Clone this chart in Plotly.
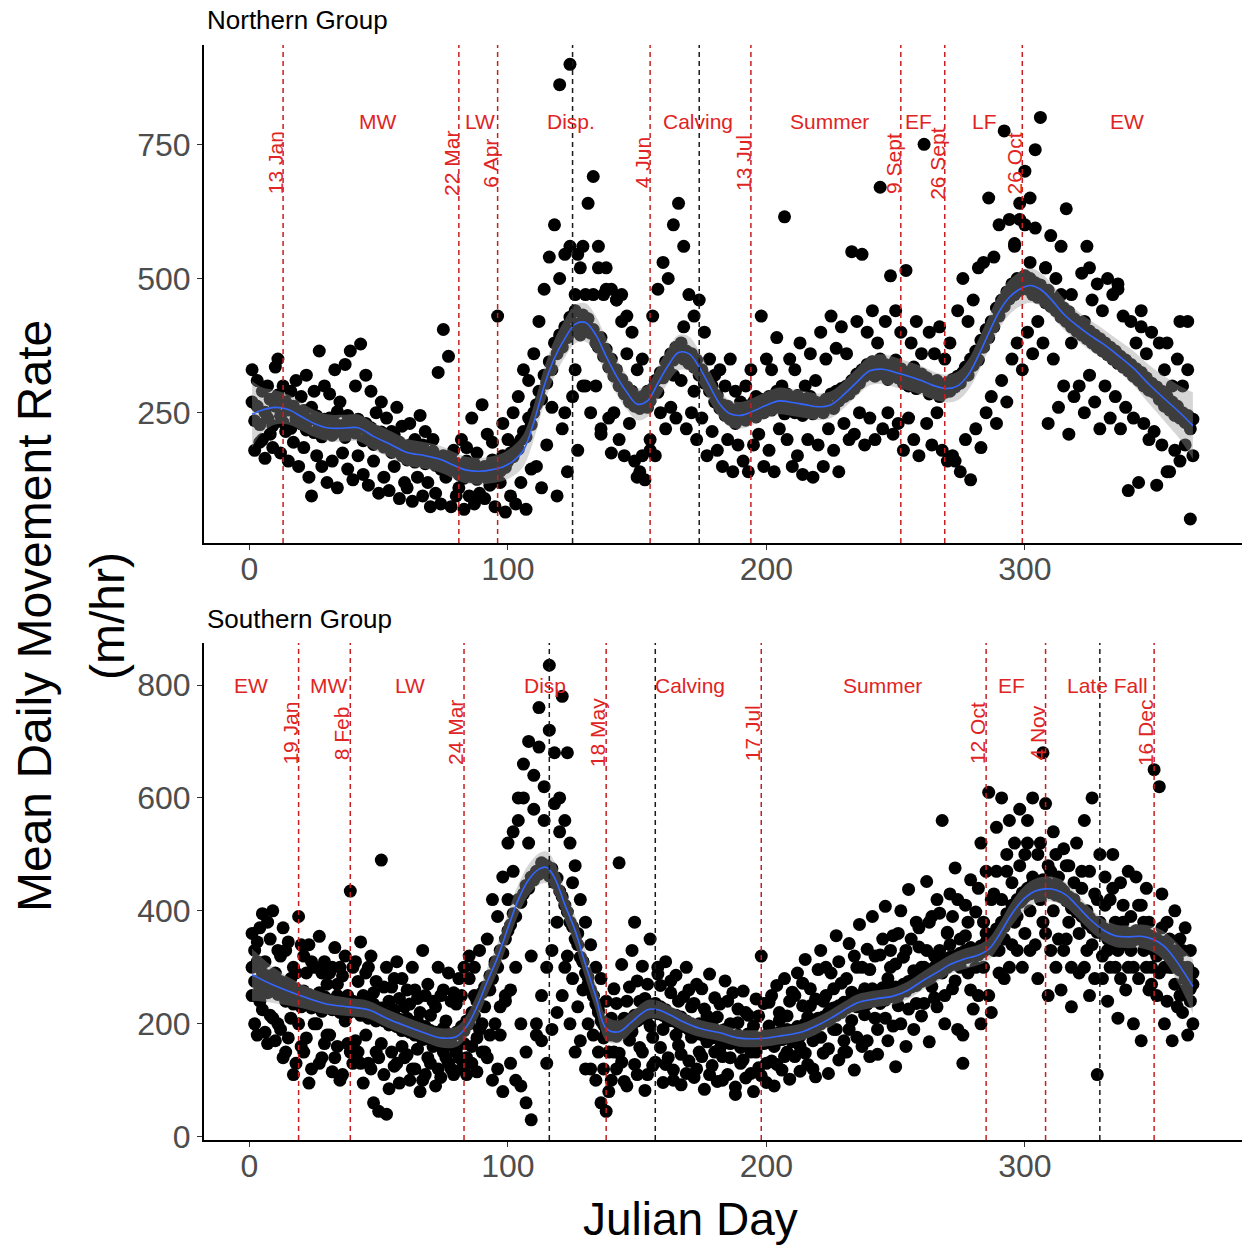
import plotly.graph_objects as go

# ---------------------------------------------------------------- data
days = list(range(1, 366))

# Northern group: daily mean movement rates (two animal-years)
north_rate_a = [
    270, 235, 262, 228, 290, 251, 240, 275, 226, 262,
    283, 244, 232, 270, 255, 221, 262, 238, 250, 229,
    254, 218, 236, 260, 213, 244, 228, 205, 238, 217,
    240, 208, 230, 252, 215, 226, 204, 245, 219, 233,
    212, 238, 224, 198, 230, 210, 222, 191, 215, 203,
    214, 186, 205, 192, 176, 209, 183, 195, 170, 188,
    162, 190, 175, 158, 182, 166, 190, 155, 174, 160,
    178, 152, 165, 145, 170, 158, 141, 163, 148, 155,
    135, 152, 128, 160, 140, 131, 155, 126, 146, 138,
    150, 128, 145, 162, 133, 158, 141, 170, 148, 160,
    175, 168, 190, 182, 200, 215, 205, 240, 228, 250,
    265, 290, 275, 320, 305, 345, 330, 380, 360, 395,
    372, 410, 390, 428, 402, 440, 415, 395, 432, 410,
    425, 398, 405, 380, 372, 390, 355, 368, 335, 350,
    318, 330, 300, 312, 285, 298, 270, 290, 262, 275,
    258, 280, 265, 290, 272, 295, 310, 288, 325, 315,
    345, 330, 360, 348, 372, 355, 380, 350, 365, 342,
    360, 335, 348, 320, 330, 305, 315, 290, 300, 270,
    282, 258, 265, 245, 262, 238, 255, 230, 250, 240,
    255, 236, 262, 248, 270, 242, 258, 275, 250, 268,
    280, 255, 272, 290, 260, 278, 248, 285, 262, 275,
    250, 282, 265, 245, 275, 258, 280, 248, 270, 255,
    268, 250, 275, 262, 285, 258, 290, 272, 295, 280,
    300, 285, 310, 295, 322, 305, 330, 318, 340, 325,
    345, 318, 335, 350, 322, 340, 312, 338, 326, 348,
    315, 332, 305, 325, 300, 318, 335, 295, 312, 322,
    298, 315, 285, 305, 292, 310, 280, 300, 288, 306,
    290, 312, 298, 318, 305, 325, 335, 320, 350, 338,
    365, 348, 385, 372, 405, 390, 420, 410, 445, 430,
    460, 448, 475, 462, 490, 470, 500, 478, 495, 505,
    480, 500, 470, 492, 465, 488, 475, 455, 478, 448,
    462, 440, 455, 428, 445, 420, 438, 410, 425, 402,
    415, 395, 420, 388, 402, 380, 395, 372, 388, 365,
    380, 358, 372, 350, 365, 342, 355, 335, 348, 328,
    340, 318, 332, 310, 325, 300, 315, 292, 305, 288,
    298, 275, 290, 262, 280, 255, 270, 245, 262, 240,
    250, 232, 245, 220, 238,
]
north_rate_b = [
    330, 180, 310, 195, 200, 165, 300, 210, 185, 335,
    350, 175, 300, 215, 160, 290, 195, 310, 150, 280,
    185, 320, 130, 95, 290, 170, 365, 150, 300, 120,
    285, 160, 330, 110, 270, 175, 340, 145, 365, 125,
    300, 170, 378, 135, 320, 115, 290, 160, 250, 100,
    270, 130, 240, 105, 215, 150, 260, 90, 225, 120,
    110, 230, 85, 200, 130, 245, 95, 215, 120, 75,
    200, 100, 325, 80, 405, 130, 355, 75, 180, 95,
    110, 200, 70, 185, 95, 240, 80, 175, 100, 265,
    90, 210, 115, 195, 75, 430, 120, 230, 65, 200,
    95, 250, 80, 280, 120, 330, 70, 310, 145, 360,
    150, 420, 110, 480, 190, 540, 260, 600, 95, 500,
    220, 545, 140, 560, 280, 470, 180, 520, 300, 470,
    640, 250, 690, 300, 560, 210, 470, 520, 240, 480,
    250, 460, 200, 420, 170, 360, 230, 400, 160, 330,
    140, 350, 125, 260, 200, 430, 170, 480, 250, 530,
    220, 500, 260, 600, 240, 640, 310, 560, 220, 470,
    250, 430, 200, 460, 240, 400, 170, 350, 215, 320,
    180, 330, 150, 300, 200, 350, 140, 290, 190, 270,
    160, 300, 140, 330, 190, 280, 210, 430, 150, 350,
    180, 330, 140, 390, 220, 300, 615, 200, 350, 150,
    330, 170, 380, 135, 300, 200, 360, 130, 310, 190,
    400, 150, 350, 220, 430, 180, 370, 140, 410, 230,
    360, 200, 550, 210, 420, 250, 545, 190, 400, 240,
    440, 200, 380, 670, 220, 420, 250, 505, 210, 440,
    230, 400, 180, 515, 240, 380, 200, 420, 170, 360,
    750, 230, 400, 190, 360, 250, 410, 180, 350, 160,
    380, 170, 160, 440, 140, 500, 200, 420, 125, 460,
    220, 520, 185, 530, 250, 650, 280, 540, 230, 600,
    310, 775, 270, 610, 350, 560, 380, 640, 330, 700,
    400, 650, 360, 740, 420, 800, 380, 520, 230, 580,
    350, 500, 260, 560, 300, 630, 210, 470, 280, 420,
    300, 510, 250, 560, 320, 460, 270, 490, 220, 440,
    300, 500, 240, 470, 280, 490, 220, 430, 260, 105,
    420, 240, 380, 120, 410, 230, 360, 200, 400, 215,
    115, 380, 190, 330, 140, 140, 300, 180, 350, 160,
    300, 190, 420, 52, 170,
]
north_extra_day = [120, 124, 127, 129, 133, 135, 138, 142, 144, 146, 126, 122,
                   130, 136, 140, 150, 152, 155, 164, 168, 172, 300, 296, 304,
                   298, 308, 302, 314, 318, 325, 336, 345, 355, 360, 363]
north_extra_rate = [861, 899, 545, 560, 470, 520, 480, 460, 470, 430, 330, 250,
                    300, 220, 175, 130, 170, 180, 320, 410, 290, 600, 565, 594,
                    610, 520, 530, 470, 380, 520, 480, 440, 380, 420, 330]

# Southern group: daily mean movement rates (three animal-years)
south_rate_a = [
    300, 275, 310, 262, 290, 270, 255, 285, 260, 278,
    252, 275, 262, 240, 268, 255, 235, 262, 248, 230,
    258, 240, 252, 228, 245, 236, 255, 222, 248, 230,
    242, 225, 238, 250, 220, 235, 245, 218, 232, 240,
    222, 238, 215, 230, 242, 210, 226, 235, 205, 220,
    228, 205, 218, 198, 212, 225, 195, 208, 188, 200,
    210, 185, 198, 180, 205, 190, 172, 195, 178, 188,
    170, 185, 165, 180, 192, 168, 182, 175, 160, 185,
    182, 195, 188, 205, 200, 220, 215, 240, 235, 255,
    265, 260, 285, 280, 305, 300, 330, 325, 350, 365,
    375, 395, 390, 420, 415, 430, 445, 440, 460, 455,
    470, 465, 485, 470, 480, 462, 475, 450, 458, 435,
    425, 410, 398, 380, 372, 350, 340, 318, 310, 290,
    282, 260, 250, 235, 225, 205, 198, 185, 192, 180,
    190, 178, 195, 185, 200, 190, 205, 198, 215, 205,
    218, 210, 228, 215, 232, 220, 235, 218, 230, 215,
    225, 210, 218, 205, 215, 200, 212, 195, 205, 190,
    200, 188, 195, 182, 198, 178, 192, 185, 175, 190,
    180, 172, 188, 170, 182, 165, 178, 168, 180, 162,
    175, 165, 182, 168, 178, 160, 175, 170, 165, 180,
    170, 182, 165, 178, 185, 172, 180, 190, 175, 188,
    182, 195, 178, 190, 200, 185, 198, 205, 192, 210,
    200, 212, 205, 220, 210, 228, 215, 232, 220, 238,
    228, 240, 232, 245, 230, 250, 238, 245, 235, 252,
    240, 255, 245, 250, 258, 242, 262, 248, 255, 265,
    250, 262, 270, 258, 275, 265, 280, 268, 285, 275,
    290, 278, 295, 285, 300, 290, 308, 295, 312, 300,
    318, 305, 320, 310, 325, 315, 330, 318, 335, 322,
    330, 322, 338, 328, 345, 335, 352, 345, 368, 360,
    380, 372, 395, 388, 410, 400, 420, 415, 432, 425,
    440, 430, 448, 435, 450, 438, 455, 440, 448, 432,
    445, 428, 440, 425, 435, 418, 425, 405, 415, 398,
    405, 390, 395, 378, 388, 370, 380, 362, 372, 360,
    368, 350, 362, 345, 365, 350, 358, 348, 362, 352,
    360, 348, 365, 352, 358, 345, 360, 342, 355, 340,
    350, 335, 345, 325, 338, 318, 330, 305, 315, 295,
    300, 280, 288, 262, 270,
]
south_rate_b = [
    360, 200, 345, 240, 395, 185, 380, 215, 400, 170,
    330, 190, 370, 150, 345, 210, 300, 130, 390, 160,
    320, 175, 340, 120, 300, 200, 355, 140, 310, 180,
    290, 115, 335, 160, 300, 110, 320, 165, 435, 130,
    310, 150, 345, 95, 290, 130, 320, 60, 275, 140,
    490, 110, 300, 85, 265, 125, 310, 95, 280, 140,
    260, 100, 300, 120, 245, 80, 330, 110, 270, 130,
    240, 90, 300, 105, 260, 140, 290, 120, 255, 150,
    280, 120, 300, 140, 320, 160, 250, 175, 330, 200,
    150, 350, 180, 420, 200, 390, 230, 460, 250, 520,
    260, 540, 300, 600, 200, 660, 150, 700, 320, 640,
    180, 690, 250, 620, 300, 720, 330, 680, 380, 600,
    250, 560, 320, 520, 280, 480, 230, 420, 260, 380,
    200, 340, 180, 300, 150, 280, 120, 240, 80, 210,
    262, 120, 148, 305, 98, 240, 171, 330, 128, 276,
    158, 302, 245, 110, 350, 176, 132, 288, 268, 96,
    310, 140, 255, 118, 286, 162, 92, 248, 300, 134,
    230, 105, 270, 150, 262, 84, 214, 288, 126, 246,
    98, 235, 142, 276, 110, 200, 255, 88, 226, 130,
    258, 104, 215, 150, 80, 244, 122, 320, 172, 96,
    238, 134, 90, 268, 206, 118, 280, 150, 102, 256,
    142, 290, 116, 232, 314, 128, 262, 170, 106, 296,
    330, 148, 250, 112, 290, 190, 356, 136, 272, 170,
    150, 342, 206, 118, 300, 376, 160, 262, 332, 142,
    390, 210, 146, 322, 264, 408, 170, 300, 356, 124,
    232, 400, 318, 160, 438, 272, 190, 380, 336, 214,
    300, 452, 168, 390, 246, 420, 330, 560, 200, 362,
    430, 262, 476, 190, 350, 130, 410, 290, 455, 226,
    398, 250, 520, 300, 470, 610, 220, 430, 548, 330,
    600, 280, 470, 560, 340, 520, 390, 580, 300, 500,
    560, 330, 600, 440, 280, 520, 380, 590, 250, 470,
    540, 300, 460, 260, 510, 350, 480, 230, 420, 520,
    290, 470, 560, 330, 250, 600, 430, 110, 500, 280,
    460, 240, 420, 500, 300, 210, 450, 380, 260, 470,
    330, 200, 460, 410, 170, 380, 440, 260, 300, 650,
    250, 620, 430, 200, 380, 300, 170, 400, 230, 350,
    220, 370, 180, 330, 200,
]
south_rate_c = [
    250, 330, 180, 370, 225, 310, 165, 350, 210, 290,
    200, 320, 140, 330, 175, 280, 110, 290, 200, 340,
    150, 290, 95, 310, 200, 250, 130, 290, 165, 270,
    180, 300, 140, 270, 100, 285, 205, 250, 150, 300,
    170, 275, 130, 250, 180, 300, 120, 255, 150, 45,
    165, 265, 40, 240, 150, 280, 130, 245, 160, 230,
    145, 235, 120, 260, 155, 220, 100, 250, 140, 215,
    160, 230, 120, 250, 150, 205, 130, 240, 110, 235,
    140, 250, 165, 110, 280, 130, 300, 115, 190, 150,
    230, 140, 260, 100, 310, 120, 180, 80, 240, 420,
    130, 470, 100, 560, 90, 600, 60, 520, 30, 580,
    200, 760, 170, 560, 130, 835, 190, 590, 220, 540,
    780, 300, 680, 200, 450, 150, 360, 170, 310, 120,
    270, 120, 250, 100, 220, 60, 175, 45, 150, 100,
    150, 236, 485, 132, 210, 90, 265, 186, 380, 110,
    240, 150, 82, 270, 196, 126, 236, 300, 158, 190,
    128, 205, 276, 100, 180, 240, 146, 196, 112, 260,
    176, 236, 120, 200, 142, 226, 168, 110, 198, 150,
    212, 156, 100, 190, 240, 140, 168, 75, 202, 158,
    136, 220, 182, 112, 196, 150, 214, 108, 236, 130,
    196, 250, 160, 128, 220, 184, 142, 214, 240, 168,
    250, 190, 160, 272, 148, 212, 232, 120, 244, 208,
    176, 240, 300, 156, 226, 262, 190, 310, 224, 150,
    280, 190, 256, 320, 176, 240, 300, 216, 170, 296,
    262, 320, 190, 236, 350, 210, 280, 330, 196, 306,
    360, 200, 268, 330, 226, 350, 294, 236, 370, 300,
    236, 330, 380, 266, 320, 230, 396, 290, 250, 360,
    340, 390, 276, 420, 300, 180, 356, 380, 260, 330,
    300, 440, 200, 380, 360, 250, 420, 330, 470, 290,
    420, 350, 500, 300, 450, 380, 330, 480, 420, 360,
    520, 400, 460, 340, 500, 420, 680, 360, 480, 330,
    400, 500, 350, 440, 330, 480, 380, 300, 450, 400,
    360, 440, 300, 400, 470, 340, 280, 420, 380, 320,
    410, 330, 300, 440, 380, 330, 280, 410, 340, 300,
    390, 300, 350, 280, 410, 330, 300, 380, 270, 330,
    320, 290, 370, 300, 240, 350, 300, 270, 330, 250,
    330, 260, 300, 240, 290,
]

# Loess fits (fitted value and half-width of the 95% band)
north_smooth_day = [1, 5, 10, 15, 20, 25, 30, 36, 42, 48, 55, 61, 68, 74, 79, 84,
                    89, 94, 98, 102, 106, 110, 114, 118, 122, 126, 130, 134, 138,
                    142, 146, 150, 154, 158, 162, 166, 170, 174, 178, 182, 186,
                    190, 195, 200, 205, 210, 215, 220, 225, 230, 235, 240, 245,
                    250, 255, 260, 265, 270, 274, 278, 282, 286, 290, 294, 298,
                    302, 306, 310, 315, 320, 325, 330, 336, 342, 348, 354, 360, 365]
north_smooth_rate = [247, 255, 260, 256, 243, 230, 222, 221, 222, 206, 190, 176,
                     170, 163, 152, 143, 141, 144, 149, 160, 180, 232, 300, 352,
                     388, 415, 418, 395, 355, 318, 288, 266, 272, 305, 338, 362,
                     360, 335, 300, 266, 248, 245, 253, 264, 272, 269, 265, 261,
                     265, 284, 307, 328, 331, 325, 318, 310, 300, 295, 300, 320,
                     356, 398, 438, 465, 480, 487, 480, 462, 434, 413, 395, 379,
                     357, 333, 303, 276, 250, 226]
north_smooth_se = [62, 42, 32, 28, 26, 25, 25, 25, 25, 25, 25, 25, 25, 25, 25, 25,
                   25, 25, 26, 28, 30, 32, 33, 34, 35, 36, 36, 35, 34, 33, 32, 30,
                   30, 31, 32, 33, 32, 30, 28, 26, 25, 25, 25, 25, 25, 25, 25, 25,
                   25, 25, 26, 27, 28, 28, 27, 27, 26, 26, 27, 28, 30, 31, 32, 32,
                   32, 32, 31, 30, 29, 28, 28, 28, 29, 32, 36, 42, 50, 62]

south_smooth_day = [1, 9, 19, 29, 38, 46, 53, 60, 67, 74, 80, 84, 88, 92, 96, 100,
                    104, 108, 112, 115, 118, 122, 126, 130, 134, 138, 143, 148,
                    154, 158, 163, 168, 174, 182, 189, 198, 206, 214, 220, 225,
                    230, 235, 242, 249, 255, 260, 266, 271, 276, 282, 286, 290,
                    295, 300, 304, 308, 312, 316, 320, 325, 330, 335, 340, 345,
                    350, 354, 358, 362, 365]
south_smooth_rate = [287, 269, 251, 236, 230, 225, 210, 197, 185, 175, 177, 195,
                     230, 275, 318, 370, 420, 455, 474, 477, 459, 411, 365, 305,
                     248, 192, 186, 204, 225, 225, 215, 203, 192, 184, 175, 174,
                     179, 186, 198, 210, 224, 237, 244, 249, 260, 275, 291, 305,
                     314, 322, 332, 357, 395, 423, 435, 439, 437, 428, 410, 386,
                     367, 356, 354, 355, 349, 337, 315, 288, 266]
south_smooth_se = [46, 32, 22, 18, 16, 16, 16, 16, 16, 17, 18, 20, 22, 24, 25, 26,
                   27, 27, 28, 28, 28, 27, 26, 25, 24, 22, 20, 18, 17, 16, 16, 16,
                   15, 15, 15, 15, 15, 15, 15, 15, 15, 15, 15, 15, 16, 16, 17, 17,
                   18, 18, 19, 20, 21, 22, 22, 22, 22, 22, 21, 20, 20, 20, 20, 21,
                   23, 26, 32, 40, 48]

# Seasonal boundaries (day of year) and labels
north_red_days = [13, 81, 96, 155, 194, 252, 269, 299]
north_red_dates = ["13 Jan", "22 Mar", "6 Apr", "4 Jun", "13 Jul", "9 Sept",
                   "26 Sept", "26 Oct"]
north_black_days = [125, 174]
north_season_names = ["MW", "LW", "Disp.", "Calving", "Summer", "EF", "LF", "EW"]
north_season_days = [49.5, 89, 124.3, 173.4, 224.5, 259, 284.5, 339.5]

south_red_days = [19, 39, 83, 138, 198, 285, 308, 350]
south_red_dates = ["19 Jan", "8 Feb", "24 Mar", "18 May", "17 Jul", "12 Oct",
                   "4 Nov", "16 Dec"]
south_black_days = [116, 157, 329]
south_season_names = ["EW", "MW", "LW", "Disp", "Calving", "Summer", "EF", "Late Fall"]
south_season_days = [0.4, 30.6, 62, 114.2, 170.3, 245, 295, 332]

north_season_rate = 793
south_season_rate = 800
date_label_rate = 715

for series in (north_rate_a, north_rate_b, south_rate_a, south_rate_b, south_rate_c):
    assert len(series) == len(days), len(series)
assert len(north_smooth_day) == len(north_smooth_rate) == len(north_smooth_se)
assert len(south_smooth_day) == len(south_smooth_rate) == len(south_smooth_se)

# ---------------------------------------------------------------- styling
W, H = 1244, 1247
FONT = "Liberation Sans, Arial, sans-serif"
RED_LINE = "#c81e1e"
RED_TEXT = "#e02424"
POINT = dict(color="black", size=13, line=dict(width=0))
BAND = "rgba(153,153,153,0.4)"
FIT = "#3366FF"

fig = go.Figure()


def add_panel(xa, ya, point_sets, s_day, s_rate, s_se):
    for xs, ys in point_sets:
        fig.add_trace(go.Scatter(x=xs, y=ys, mode="markers", marker=POINT,
                                 xaxis=xa, yaxis=ya, hoverinfo="skip",
                                 showlegend=False))
    lower = [r - s for r, s in zip(s_rate, s_se)]
    upper = [r + s for r, s in zip(s_rate, s_se)]
    fig.add_trace(go.Scatter(x=s_day, y=lower, mode="lines",
                             line=dict(width=0, shape="spline"),
                             xaxis=xa, yaxis=ya, hoverinfo="skip",
                             showlegend=False))
    fig.add_trace(go.Scatter(x=s_day, y=upper, mode="lines", fill="tonexty",
                             fillcolor=BAND, line=dict(width=0, shape="spline"),
                             xaxis=xa, yaxis=ya, hoverinfo="skip",
                             showlegend=False))
    fig.add_trace(go.Scatter(x=s_day, y=s_rate, mode="lines",
                             line=dict(color=FIT, width=1.6, shape="spline"),
                             xaxis=xa, yaxis=ya, hoverinfo="skip",
                             showlegend=False))


add_panel("x", "y",
          [(days, north_rate_b), (days, north_rate_a),
           (north_extra_day, north_extra_rate)],
          north_smooth_day, north_smooth_rate, north_smooth_se)
add_panel("x2", "y2",
          [(days, south_rate_c), (days, south_rate_b), (days, south_rate_a)],
          south_smooth_day, south_smooth_rate, south_smooth_se)

shapes = []
annotations = []


def add_markers(xr, yr, red_days, red_dates, black_days, names, name_days,
                name_rate):
    for d in red_days:
        shapes.append(dict(type="line", xref=xr, yref=f"{yr} domain", x0=d, x1=d,
                           y0=0, y1=1,
                           line=dict(color=RED_LINE, width=1.5, dash="5px,4px")))
    for d in black_days:
        shapes.append(dict(type="line", xref=xr, yref=f"{yr} domain", x0=d, x1=d,
                           y0=0, y1=1,
                           line=dict(color="#1a1a1a", width=1.5, dash="5px,4px")))
    for d, t in zip(red_days, red_dates):
        annotations.append(dict(x=d, y=date_label_rate, xref=xr, yref=yr, text=t,
                                textangle=-90, showarrow=False, xshift=-8,
                                xanchor="center", yanchor="middle",
                                font=dict(family=FONT, size=21, color=RED_TEXT)))
    for d, t in zip(name_days, names):
        annotations.append(dict(x=d, y=name_rate, xref=xr, yref=yr, text=t,
                                showarrow=False, xanchor="center", yanchor="middle",
                                font=dict(family=FONT, size=21, color=RED_TEXT)))


add_markers("x", "y", north_red_days, north_red_dates, north_black_days,
            north_season_names, north_season_days, north_season_rate)
add_markers("x2", "y2", south_red_days, south_red_dates, south_black_days,
            south_season_names, south_season_days, south_season_rate)


def px_x(p):
    return p / W


def px_y(p):
    return 1 - p / H


annotations += [
    dict(text="Northern Group", x=px_x(205), y=px_y(20), xref="paper", yref="paper",
         xanchor="left", yanchor="middle", showarrow=False,
         font=dict(family=FONT, size=26, color="black")),
    dict(text="Southern Group", x=px_x(205), y=px_y(619), xref="paper", yref="paper",
         xanchor="left", yanchor="middle", showarrow=False,
         font=dict(family=FONT, size=26, color="black")),
    dict(text="Mean Daily Movement Rate", x=px_x(34), y=px_y(616), xref="paper",
         yref="paper", textangle=-90, xanchor="center", yanchor="middle",
         showarrow=False, font=dict(family=FONT, size=48, color="black")),
    dict(text="(m/hr)", x=px_x(107), y=px_y(616), xref="paper",
         yref="paper", textangle=-90, xanchor="center", yanchor="middle",
         showarrow=False, font=dict(family=FONT, size=48, color="black")),
    dict(text="Julian Day", x=px_x(690), y=px_y(1219), xref="paper", yref="paper",
         xanchor="center", yanchor="middle", showarrow=False,
         font=dict(family=FONT, size=46, color="black")),
]

x_domain = [px_x(204), px_x(1242)]
axis_common = dict(showgrid=False, zeroline=False, showline=True, linecolor="black",
                   linewidth=2, ticks="outside", ticklen=5, tickwidth=1.2,
                   tickcolor="#333333", automargin=False,
                   tickfont=dict(family=FONT, size=32, color="#4d4d4d"))
x_extra = dict(ticklabelstandoff=-8)

fig.update_layout(
    width=W, height=H,
    margin=dict(l=0, r=0, t=0, b=0, autoexpand=False),
    paper_bgcolor="white", plot_bgcolor="white",
    showlegend=False,
    shapes=shapes, annotations=annotations,
    xaxis=dict(domain=x_domain, range=[-17.6, 384], tickvals=[0, 100, 200, 300],
               anchor="y", **axis_common, **x_extra),
    yaxis=dict(domain=[px_y(543), px_y(45)], range=[7.3, 935],
               tickvals=[250, 500, 750], anchor="x", **axis_common),
    xaxis2=dict(domain=x_domain, range=[-17.6, 384], tickvals=[0, 100, 200, 300],
                anchor="y2", **axis_common, **x_extra),
    yaxis2=dict(domain=[px_y(1140), px_y(643)], range=[-5.8, 874.4],
                tickvals=[0, 200, 400, 600, 800], anchor="x2", **axis_common),
)

fig.write_html("out.html")
